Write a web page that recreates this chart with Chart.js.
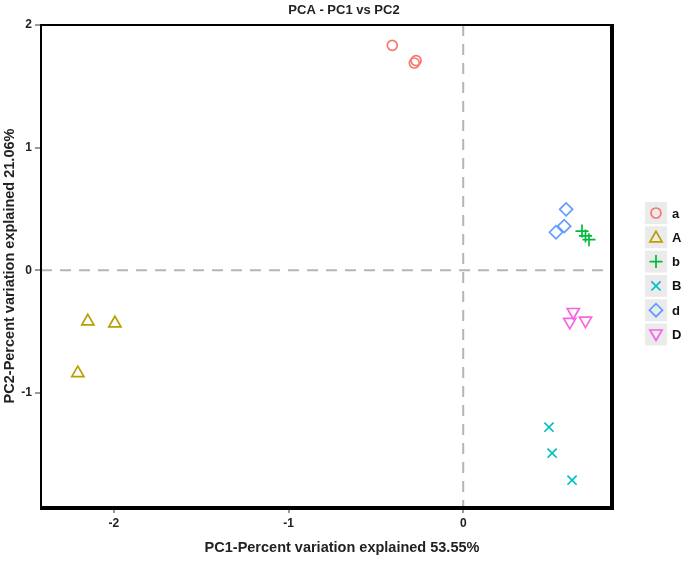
<!DOCTYPE html>
<html>
<head>
<meta charset="utf-8">
<script src="https://cdn.jsdelivr.net/npm/chart.js@4.4.0/dist/chart.umd.min.js"></script>
<style>
  html, body { margin: 0; padding: 0; background: #fff; }
  #wrap { width: 685px; height: 561px; }
</style>
</head>
<body>
<div id="wrap"><canvas id="chart-1" width="685" height="561"></canvas></div>
<script>
/************************ data *********************************/

const groups = ["a", "A", "b", "B", "d", "D"];
const colors = ["#F8766D", "#B79F00", "#00BA38", "#00BFC4", "#619CFF", "#F564E3"];
const styles = ["circle", "triangle", "cross", "crossRot", "rectRot", "triangle"];
const rotations = [0, 0, 0, 0, 0, 180];

const pc1_a = [-0.406, -0.28, -0.27];
const pc2_a = [1.834, 1.69, 1.71];
const pc1_A = [-2.149, -1.994, -2.206];
const pc2_A = [-0.416, -0.432, -0.839];
const pc1_b = [0.68, 0.70, 0.72];
const pc2_b = [0.32, 0.28, 0.25];
const pc1_B = [0.491, 0.509, 0.623];
const pc2_B = [-1.279, -1.491, -1.711];
const pc1_d = [0.589, 0.578, 0.531];
const pc2_d = [0.497, 0.36, 0.31];
const pc1_D = [0.63, 0.61, 0.70];
const pc2_D = [-0.34, -0.42, -0.41];

const xTicks = [-2, -1, 0];
const yTicks = [-1, 0, 1, 2];

const pc1 = [pc1_a, pc1_A, pc1_b, pc1_B, pc1_d, pc1_D];
const pc2 = [pc2_a, pc2_A, pc2_b, pc2_B, pc2_d, pc2_D];

const FONT = "'Liberation Sans', Arial, sans-serif";
const radii = { circle: 5, triangle: 7, cross: 6.5, crossRot: 6.5, rectRot: 6.5 };

/************************ datasets *********************************/

const datasets = groups.map(function (g, i) {
  return {
    label: g,
    data: pc1[i].map(function (x, j) { return { x: x, y: pc2[i][j] }; }),
    pointStyle: styles[i],
    rotation: rotations[i],
    pointRadius: radii[styles[i]],
    borderColor: colors[i],
    backgroundColor: "rgba(0,0,0,0)",
    pointBorderWidth: 1.7,
  };
});

/************************ plugins: zero lines, frame, legend, titles *********************************/

const extras = {
  id: "extras",
  beforeDatasetsDraw(chart) {
    const c = chart.ctx, a = chart.chartArea;
    const x0 = chart.scales.x.getPixelForValue(0);
    const y0 = chart.scales.y.getPixelForValue(0);
    c.save();
    c.strokeStyle = "#b5b5b5";
    c.lineWidth = 2;
    c.setLineDash([11, 8]);
    c.beginPath();
    c.moveTo(x0, a.top); c.lineTo(x0, a.bottom);
    c.moveTo(a.left, y0); c.lineTo(a.right, y0);
    c.stroke();
    c.restore();
  },
  afterDraw(chart) {
    const c = chart.ctx, a = chart.chartArea;
    c.save();
    c.strokeStyle = "#000";
    c.lineWidth = 2;
    c.strokeRect(a.left, a.top, a.right - a.left, a.bottom - a.top);
    // heavier right/bottom edge like the original
    c.fillStyle = "#000";
    c.fillRect(a.right, a.top - 1, 3, a.bottom - a.top + 4);
    c.fillRect(a.left - 1, a.bottom, a.right - a.left + 4, 3);

    // titles centred on the whole picture
    c.fillStyle = "#222";
    c.textAlign = "center";
    c.textBaseline = "middle";
    c.font = "bold 13px " + FONT;
    c.fillText("PCA - PC1 vs PC2", 344, 10);
    c.font = "bold 14.5px " + FONT;
    c.fillText("PC1-Percent variation explained 53.55%", 342, 548);
    c.restore();

    // legend
    const x = 645, y = 202, box = 22, step = 24.3;
    c.save();
    chart.data.datasets.forEach(function (ds, i) {
      const top = y + i * step;
      c.fillStyle = "#ebebeb";
      c.fillRect(x, top, box, box);
      c.strokeStyle = ds.borderColor;
      c.fillStyle = "rgba(0,0,0,0)";
      c.lineWidth = 1.7;
      Chart.helpers.drawPoint(c, {
        pointStyle: ds.pointStyle,
        rotation: ds.rotation,
        radius: ds.pointRadius,
        borderWidth: 1.7,
      }, x + box / 2, top + box / 2 + (ds.pointStyle == "triangle" ? (ds.rotation ? -1 : 1) : 0));
      c.fillStyle = "#111";
      c.font = "bold 13px " + FONT;
      c.textBaseline = "middle";
      c.fillText(ds.label, x + box + 5, top + box / 2 + 1);
    });
    c.restore();
  },
};

/************************ chart *********************************/

const ctx1 = document.getElementById("chart-1").getContext("2d");
const myChart1 = new Chart(ctx1, {
  type: "scatter",
  data: { datasets: datasets },
  options: {
    responsive: false,
    animation: false,
    layout: { padding: { left: 0, right: 74, top: 25, bottom: 0 } },
    plugins: {
      legend: { display: false },
      tooltip: { enabled: false },
      title: { display: false },
    },
    scales: {
      x: {
        type: "linear",
        min: -2.417,
        max: 0.846,
        afterBuildTicks: function (s) { s.ticks = xTicks.map(function (v) { return { value: v }; }); },
        afterFit: function (s) { s.height = 54; },
        grid: { display: true, drawOnChartArea: false, drawTicks: true, tickLength: 6, color: "#9a9a9a", lineWidth: 2 },
        border: { display: false },
        ticks: { color: "#222", padding: 3, font: { family: FONT, size: 12, weight: "bold" } },
        title: { display: false },
      },
      y: {
        type: "linear",
        min: -1.93,
        max: 2,
        afterBuildTicks: function (s) { s.ticks = yTicks.map(function (v) { return { value: v }; }); },
        afterFit: function (s) { s.width = 41; },
        grid: { display: true, drawOnChartArea: false, drawTicks: true, tickLength: 6, color: "#9a9a9a", lineWidth: 2 },
        border: { display: false },
        ticks: { color: "#222", padding: 3, font: { family: FONT, size: 12, weight: "bold" } },
        title: {
          display: true,
          text: "PC2-Percent variation explained 21.06%",
          color: "#222",
          font: { family: FONT, size: 14.5, weight: "bold" },
          padding: { top: 1, bottom: 0 },
        },
      },
    },
  },
  plugins: [extras],
});
</script>
</body>
</html>
